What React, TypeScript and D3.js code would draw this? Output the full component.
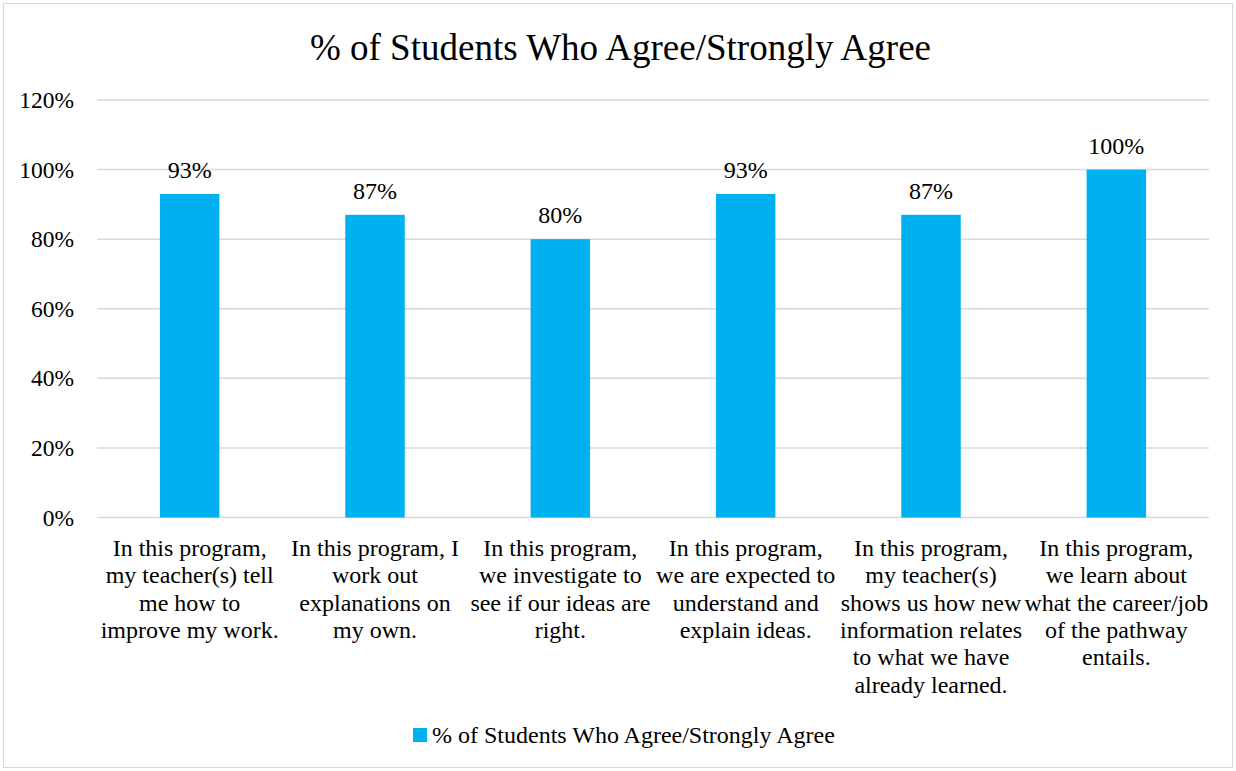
import React from "react";
import * as d3 from "d3";

const categories: string[][] = [
  ["In this program,", "my teacher(s) tell", "me how to", "improve my work."],
  ["In this program, I", "work out", "explanations on", "my own."],
  ["In this program,", "we investigate to", "see if our ideas are", "right."],
  ["In this program,", "we are expected to", "understand and", "explain ideas."],
  ["In this program,", "my teacher(s)", "shows us how new", "information relates", "to what we have", "already learned."],
  ["In this program,", "we learn about", "what the career/job", "of the pathway", "entails."],
];
const values: number[] = [0.93, 0.87, 0.8, 0.93, 0.87, 1.0];
const yTicks: number[] = [0, 0.2, 0.4, 0.6, 0.8, 1.0, 1.2];
const seriesName = "% of Students Who Agree/Strongly Agree";
const title = "% of Students Who Agree/Strongly Agree";

const W = 1236;
const H = 771;
const FONT = "'Liberation Serif', 'Times New Roman', serif";

export default function App() {
  const left = 97;
  const right = 1209;
  const top = 100;
  const bottom = 517.5;
  const x = d3
    .scaleBand<number>()
    .domain(d3.range(values.length))
    .range([left, right])
    .paddingInner(0.679)
    .paddingOuter(0.3395);
  const y = d3.scaleLinear().domain([0, 1.2]).range([bottom, top]);
  const fmt = d3.format(".0%");
  const fs = 24;

  return (
    <svg width={W} height={H} style={{ position: "absolute", left: 0, top: 0, display: "block" }} fontFamily={FONT}>
      <rect x={0} y={0} width={W} height={H} fill="#fff" />
      <rect x={3.5} y={3.5} width={W - 7} height={H - 7} fill="none" stroke="#D9D9D9" strokeWidth={1} />
      <text x={620.5} y={47} textAnchor="middle" dominantBaseline="central" fontSize={37} fill="#000">
        {title}
      </text>
      {yTicks.map((t) => (
        <g key={t}>
          <line x1={left} x2={right} y1={y(t)} y2={y(t)} stroke="#D9D9D9" strokeWidth={1.5} />
          <text x={74} y={y(t)} textAnchor="end" dominantBaseline="central" fontSize={23.5} fill="#000">
            {fmt(t)}
          </text>
        </g>
      ))}
      {values.map((v, i) => (
        <g key={i}>
          <rect x={x(i)!} y={y(v)} width={x.bandwidth()} height={y(0) - y(v)} fill="#00B0F0" />
          <text
            x={x(i)! + x.bandwidth() / 2}
            y={y(v) - 24}
            textAnchor="middle"
            dominantBaseline="central"
            fontSize={fs}
            fill="#000"
          >
            {fmt(v)}
          </text>
          {categories[i].map((line, j) => (
            <text
              key={j}
              x={x(i)! + x.bandwidth() / 2}
              y={548 + j * 27.3}
              textAnchor="middle"
              dominantBaseline="central"
              fontSize={fs}
              fill="#000"
            >
              {line}
            </text>
          ))}
        </g>
      ))}
      <rect x={413} y={728} width={14} height={14} fill="#00B0F0" />
      <text x={432} y={735} dominantBaseline="central" fontSize={fs} fill="#000">
        {seriesName}
      </text>
    </svg>
  );
}
